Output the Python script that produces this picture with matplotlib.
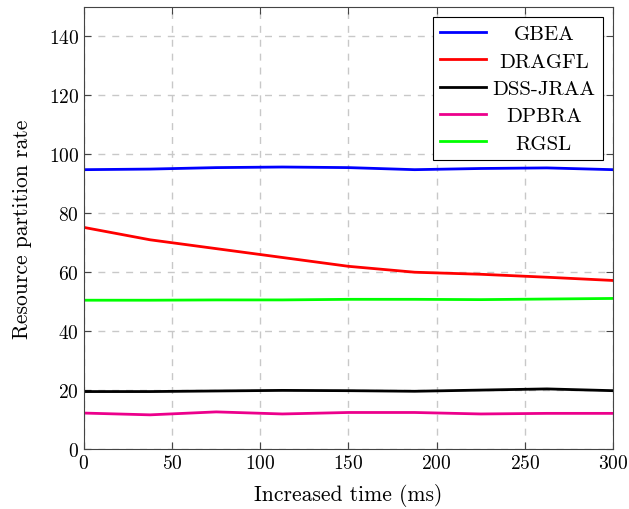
import numpy as np
import matplotlib.pyplot as plt

plt.rcParams['font.family'] = 'cmr10'
plt.rcParams['mathtext.fontset'] = 'cm'
plt.rcParams['axes.formatter.use_mathtext'] = True

# data
t = [0, 37.5, 75, 112.5, 150, 187.5, 225, 262.5, 300]
gbea = [94.8, 95.0, 95.5, 95.7, 95.5, 94.8, 95.2, 95.4, 94.8]
dragfl = [75.2, 71.0, 68.0, 65.0, 62.0, 60.0, 59.3, 58.3, 57.2]
dssjraa = [19.5, 19.5, 19.7, 19.9, 19.8, 19.6, 20.0, 20.4, 19.8]
dpbra = [12.2, 11.6, 12.6, 11.9, 12.4, 12.4, 11.9, 12.1, 12.1]
rgsl = [50.5, 50.5, 50.6, 50.6, 50.8, 50.8, 50.7, 50.9, 51.1]

names = ['GBEA', 'DRAGFL', 'DSS-JRAA', 'DPBRA', 'RGSL']
series = [gbea, dragfl, dssjraa, dpbra, rgsl]
colors = ['#0000ff', '#ff0000', '#000000', '#ec008c', '#00ff00']

fig = plt.figure(figsize=(6.29, 5.10), dpi=100)
ax = fig.add_axes([0.1335, 0.1176, 0.8411, 0.8667])

for y, c, n in zip(series, colors, names):
    ax.plot(t, y, color=c, lw=2, label=n)

ax.set_xlim(0, 300)
ax.set_ylim(0, 150)
ax.set_xticks(np.arange(0, 301, 50))
ax.set_yticks(np.arange(0, 141, 20))
ax.grid(True, color='#c8c8c8', linestyle=(0, (5, 5)), lw=1)
ax.set_axisbelow(True)
ax.tick_params(direction='in', top=True, right=True, labelsize=14, length=5, color='#444444')
for s in ax.spines.values():
    s.set_color('#444444')
ax.set_xlabel('Increased time (ms)', fontsize=15.5, labelpad=8)
ax.set_ylabel('Resource partition rate', fontsize=15.5, labelpad=12)

leg = ax.legend(loc='upper right', fontsize=15, fancybox=False, edgecolor='black',
                framealpha=1, handlelength=2.2, borderaxespad=0.5, labelspacing=0.42,
                handletextpad=0.3, borderpad=0.35)
leg.get_frame().set_linewidth(0.8)

# centre the legend labels like pgfplots does
fig.canvas.draw()
r = fig.canvas.get_renderer()
txts = leg.get_texts()
ws = [tx.get_window_extent(r).width for tx in txts]
for tx, w in zip(txts, ws):
    tx.set_position(((max(ws) - w) / 2, 0))

fig.savefig('out.png', dpi=100)
